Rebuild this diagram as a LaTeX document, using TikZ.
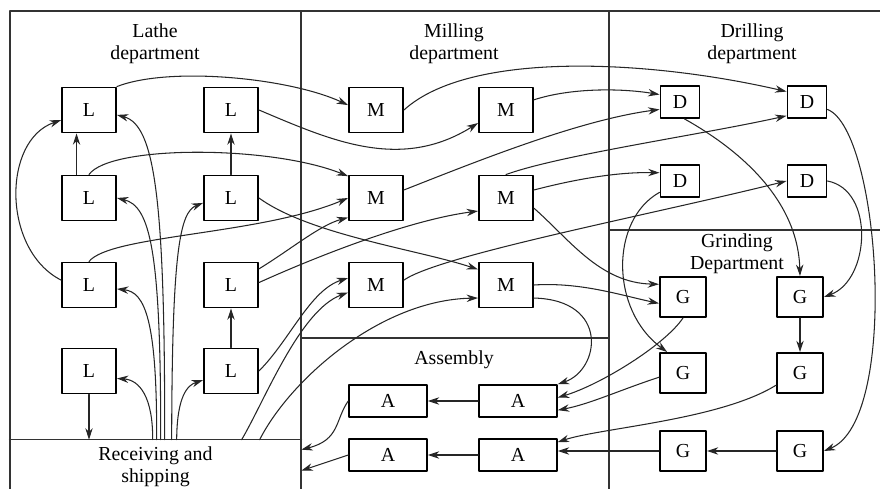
\documentclass[tikz,border=0pt]{standalone}
\usepackage{fontspec}
\setmainfont{Liberation Serif}
\usepackage{tikz}
\usetikzlibrary{arrows.meta,calc}

\begin{document}
\begin{tikzpicture}[
    x=0.02cm,
    y=-0.02cm,
    >={Stealth[length=6.5pt,width=4.2pt]},
    line cap=round,
    line join=round,
    font=\fontsize{11.3}{12.5}\selectfont,
    frame/.style={line width=0.8pt,black!80},
    flow/.style={->,line width=0.6pt,black!85},
    mbox/.style={draw,line width=1.1pt,inner sep=0pt,minimum width=1.08cm,minimum height=0.9cm},
    dbox/.style={mbox,minimum width=0.78cm,minimum height=0.64cm},
    gbox/.style={mbox,minimum width=0.92cm,minimum height=0.8cm},
    abox/.style={mbox,line width=0.9pt,minimum width=1.56cm,minimum height=0.64cm},
    title/.style={align=center}
  ]

  \useasboundingbox (0,0) rectangle (880,489);

  % Rahmen
  \draw[frame] (10,489) -- (10,11) -- (880,11);
  \draw[frame] (301,11) -- (301,489);
  \draw[frame] (609,11) -- (609,489);
  \draw[frame] (609,230) -- (880,230);
  \draw[frame] (301,338) -- (609,338);

  % Titel
  \node[title] at (155,44) {Lathe\\department};
  \node[title] at (454,44) {Milling\\department};
  \node[title] at (752,44) {Drilling\\department};
  \node[title] at (737,254) {Grinding\\Department};
  \node at (454,360) {Assembly};

  \node[inner sep=0pt,minimum width=5.82cm,minimum height=1.08cm,align=center] (recv) at (155.5,467) {Receiving and\\shipping};
  \draw[frame] (recv.north west) -- (recv.north east);

  % Drehmaschinen
  \node[mbox] (l1) at (89,110) {L};
  \node[mbox] (l2) at (231,110) {L};
  \node[mbox] (l3) at (89,198) {L};
  \node[mbox] (l4) at (231,198) {L};
  \node[mbox] (l5) at (89,285) {L};
  \node[mbox] (l6) at (231,285) {L};
  \node[mbox] (l7) at (89,371) {L};
  \node[mbox] (l8) at (231,371) {L};

  % Fraesmaschinen
  \node[mbox] (m1) at (376,110) {M};
  \node[mbox] (m2) at (506,110) {M};
  \node[mbox] (m3) at (376,198) {M};
  \node[mbox] (m4) at (506,198) {M};
  \node[mbox] (m5) at (376,285) {M};
  \node[mbox] (m6) at (506,285) {M};

  % Bohrmaschinen
  \node[dbox] (d1) at (680,102) {D};
  \node[dbox] (d2) at (807,102) {D};
  \node[dbox] (d3) at (680,181) {D};
  \node[dbox] (d4) at (807,181) {D};

  % Schleifmaschinen
  \node[gbox] (g1) at (683,297) {G};
  \node[gbox] (g2) at (800,297) {G};
  \node[gbox] (g3) at (683,373) {G};
  \node[gbox] (g4) at (800,373) {G};
  \node[gbox] (g5) at (683,451) {G};
  \node[gbox] (g6) at (800,451) {G};

  % Montage
  \node[abox] (a1) at (388,401) {A};
  \node[abox] (a2) at (518,401) {A};
  \node[abox] (a3) at (388,455) {A};
  \node[abox] (a4) at (518,455) {A};

  % Wareneingang -> Drehen
  \draw[flow] ($(recv.north west)+(143,0)$) .. controls (153,398) and (140,380) .. (l7.-15);
  \draw[flow] ($(recv.north west)+(147,0)$) .. controls (157,320) and (145,292) .. (l5.-8);
  \draw[flow] ($(recv.north west)+(151,0)$) .. controls (161,250) and (150,206) .. (l3.east);
  \draw[flow] ($(recv.north west)+(155,0)$) .. controls (165,200) and (155,125) .. (l1.-10);
  \draw[flow] ($(recv.north west)+(162,0)$) .. controls (172,250) and (180,212) .. (l4.190);
  \draw[flow] ($(recv.north west)+(167,0)$) .. controls (177,395) and (188,385) .. (l8.198);

  % innerhalb Drehen
  \draw[flow] (l7.south) -- (l7.south |- recv.north);
  \draw[flow] (l3.118) -- (l1.242);
  \draw[flow] (l4.north) -- (l2.south);
  \draw[flow] (l8.north) -- (l6.south);
  \draw[flow] (l5.170) .. controls (2,250) and (2,140) .. (l1.200);

  % Drehen -> Fraesen
  \draw[flow] (l1.north east) .. controls (170,66) and (290,78) .. (m1.170);
  \draw[flow] (l2.east) .. controls (330,140) and (400,172) .. (m2.205);
  \draw[flow] (l3.north) .. controls (110,145) and (270,145) .. (m3.142);
  \draw[flow] (l4.east) .. controls (310,235) and (420,250) .. (m6.151);
  \draw[flow] (l5.north) .. controls (110,235) and (260,235) .. (m3.west);
  \draw[flow] (l6.30) .. controls (290,250) and (320,225) .. (m3.215);
  \draw[flow] (l6.5) .. controls (320,255) and (410,220) .. (m4.205);
  \draw[flow] (l8.east) .. controls (290,340) and (310,290) .. (m5.166);
  \draw[flow] ($(recv.north west)+(232,0)$) .. controls (265,400) and (300,310) .. (m5.195);
  \draw[flow] ($(recv.north west)+(250,0)$) .. controls (290,380) and (380,300) .. (m6.205);

  % Fraesen -> Bohren, Schleifen, Montage
  \draw[flow] (m1.east) .. controls (470,50) and (650,60) .. (d2.153);
  \draw[flow] (m2.20) .. controls (570,88) and (620,88) .. (d1.160);
  \draw[flow] (m3.16) .. controls (480,160) and (580,120) .. (d1.200);
  \draw[flow] (m4.north) .. controls (560,155) and (700,135) .. (d2.214);
  \draw[flow] (m4.16) .. controls (580,178) and (620,172) .. (d3.158);
  \draw[flow] (m4.-20) .. controls (570,240) and (600,283) .. (g1.152);
  \draw[flow] (m6.east) .. controls (580,282) and (620,295) .. (g1.195);
  \draw[flow] (m6.-25) .. controls (610,300) and (600,370) .. (a2.north east);
  \draw[flow] (m5.10) .. controls (440,255) and (650,215) .. (d4.west);

  % Bohren -> Schleifen
  \draw[flow] (d1.-75) .. controls (740,150) and (798,200) .. (g2.north);
  \draw[flow] (d2.-20) .. controls (880,130) and (900,420) .. (g6.east);
  \draw[flow] (d4.east) .. controls (875,190) and (870,280) .. (g2.east);
  \draw[flow] (d3.209) .. controls (610,220) and (610,310) .. (g3.127);

  % Schleifen -> Montage
  \draw[flow] (g2.south) -- (g4.north);
  \draw[flow] (g6.west) -- (g5.east);
  \draw[flow] (g1.south) .. controls (665,345) and (600,385) .. (a2.5);
  \draw[flow] (g3.190) .. controls (620,390) and (590,404) .. (a2.-13);
  \draw[flow] (g4.207) .. controls (720,420) and (600,428) .. (a4.18);
  \draw[flow] (g5.west) -- (g5.west -| a4.east);

  % Montage -> Versand
  \draw[flow] (a2.west) -- (a1.east);
  \draw[flow] (a4.west) -- (a3.east);
  \draw[flow] (a1.west) .. controls (335,420) and (340,440) .. ($(recv.north east)+(0,10)$);
  \draw[flow] (a3.west) -- ($(recv.north east)+(0,31)$);

\end{tikzpicture}
\end{document}
